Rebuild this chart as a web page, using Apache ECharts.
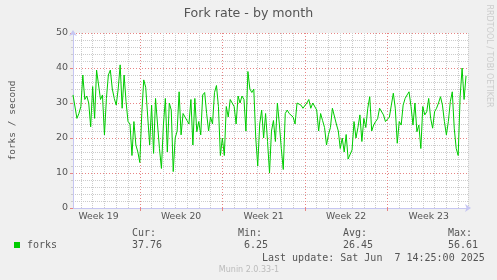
<!DOCTYPE html>
<html><head><meta charset="utf-8">
<script src="https://cdn.jsdelivr.net/npm/echarts@6/dist/echarts.min.js"></script>
<style>html,body{margin:0;padding:0;background:#f0f0f0}#c{width:497px;height:280px}</style>
</head><body><div id="c"></div>
<script>
// ---- data ----
const titleText = 'Fork rate - by month';
const yAxisName = 'forks / second';
const seriesName = 'forks';
const weekLabels = ['Week 19', 'Week 20', 'Week 21', 'Week 22', 'Week 23'];
const yTicks = [0, 10, 20, 30, 40, 50];
// hours since Monday 00:00 of Week 19; one sample every 4 hours
const firstHour = 32;
const stepHours = 4;
const values = [
  32.3, 32, 25.6, 27, 29, 38, 31, 32, 30, 23.2, 34.7, 25.6, 39.4, 39.4, 31, 32.3, 20.9, 31.3, 38, 39.4,
  34, 31.3, 29.4, 34, 40.9, 28.5, 38, 30.4, 24.7, 24, 15, 24.7, 18, 16, 13,
  27, 36.6, 34.5, 35, 18, 29.4, 15.6, 31.3, 24, 17, 11.3, 23.7, 31.3, 16, 30, 28, 10.4, 20, 22, 33.2,
  20.9, 27, 27.5, 25, 24, 31, 18, 31.3, 21.8, 24.7, 20.9, 32.3, 33,
  27, 22, 26, 24, 33, 35, 29, 15, 20, 15, 29, 26, 31, 30, 29, 24, 32, 30, 32, 31,
  22, 39, 34, 33, 34, 20, 12, 24, 28, 20, 27, 19, 10, 22,
  25, 19, 30, 24, 17, 11, 27, 28, 27, 27, 26, 24, 30, 30.4, 29.4, 28.5, 28, 30, 31, 28.5,
  30, 30.5, 28, 22, 27, 25, 23, 18, 21, 23, 28.5, 29, 24, 22,
  17, 20, 16, 21, 14, 13.5, 16.6, 24.7, 20, 23, 26.6, 19, 25.6, 23, 28.5, 31.8, 22, 23.7, 24.7, 25.5,
  28.5, 28.5, 26.6, 24.7, 24.2, 26, 29.4, 32.8, 28.5, 18.5, 24.7, 23.7, 29.4, 31.3, 32.3,
  33.2, 29, 23.7, 30, 21.8, 23.7, 17, 29, 26.6, 27.5, 31.3, 25.6, 22.8, 27.5, 28.5, 30, 31.8, 29.4, 24.7, 20.9,
  24.7, 30.4, 33.2, 22.8, 17, 15, 31.8, 40, 31, 37.76
];
const statLabels = ['Cur:', 'Min:', 'Avg:', 'Max:'];
const statValues = ['37.76', '6.25', '26.45', '56.61'];
const lastUpdate = 'Last update: Sat Jun  7 14:25:00 2025';
const footer = 'Munin 2.0.33-1';
const sideText = 'RRDTOOL / TOBI OETIKER';

// ---- chart ----
const categories = Array.from({length: values.length + 1}, (_, i) => String(firstHour + i * stepHours));
const lastIdx = categories.length - 1;
const H = v => Number(v);

const SANS = '"DejaVu Sans", sans-serif';
const MONO = '"DejaVu Sans Mono", monospace';
const TXT = '#555555';
const AXIS = '#c6c6f2';
const MINOR = '#cccccc';
const MAJOR = '#e78585';

const isDayLine = (i, v) => (H(v) % 24 === 0 && H(v) % 168 !== 0) || i === lastIdx;
const isWeekLine = (i, v) => H(v) % 168 === 0;
const isWeekMid = (i, v) => H(v) % 168 === 84;

function txt(x, y, text, font, fill, align, extra) {
  return Object.assign({
    type: 'text', x: x, y: y, silent: true,
    style: {text: text, font: font, fill: fill, align: align || 'left', verticalAlign: 'middle'}
  }, extra || {});
}

const statX = [132, 238, 343, 448];
const statValX = [132, 244, 343, 448];
const graphics = [
  txt(248.5, 13.5, titleText, '12.6px ' + SANS, TXT, 'center'),
  txt(489, 56, sideText, '8px ' + SANS, '#cccccc', 'center', {rotation: -Math.PI / 2}),
  {type: 'rect', x: 14, y: 242, shape: {width: 6, height: 6}, style: {fill: '#00cc00'}, silent: true},
  txt(27, 245.5, seriesName, '10px ' + MONO, TXT),
  txt(262, 258, lastUpdate, '10px ' + MONO, TXT),
  txt(249, 269.5, footer, '8px ' + SANS, '#bbbbbb', 'center')
];
statLabels.forEach((s, i) => graphics.push(txt(statX[i], 233.5, s, '10px ' + MONO, TXT)));
statValues.forEach((s, i) => graphics.push(txt(statValX[i], 245.5, s, '10px ' + MONO, TXT)));

const baseX = {type: 'category', data: categories, boundaryGap: false, position: 'bottom'};

const chart = echarts.init(document.getElementById('c'), null, {renderer: 'canvas'});
chart.setOption({
  animation: false,
  backgroundColor: '#f0f0f0',
  grid: {left: 66, top: 33, width: 402, height: 175, containLabel: false, show: true,
         backgroundColor: '#ffffff', borderWidth: 0},
  xAxis: [
    Object.assign({}, baseX, { // day grid, axis line
      axisLine: {show: true, lineStyle: {color: AXIS, width: 1}, symbol: ['none', 'arrow'],
                 symbolSize: [6, 6], symbolOffset: [0, 3]},
      axisLabel: {show: false},
      axisTick: {show: true, length: 3, interval: isWeekLine, lineStyle: {color: MAJOR}},
      splitLine: {show: true, interval: isDayLine,
                  lineStyle: {color: MINOR, type: 'dotted', width: 1}}
    }),
    Object.assign({}, baseX, { // week labels
      axisLine: {show: false}, axisTick: {show: false}, splitLine: {show: false},
      axisLabel: {show: true, interval: isWeekMid,
                  formatter: v => weekLabels[Math.floor(H(v) / 168)] || '',
                  color: TXT, fontFamily: SANS, fontSize: 9.3, margin: 4}
    }),
    Object.assign({}, baseX, { // week boundary grid
      axisLine: {show: false}, axisTick: {show: false}, axisLabel: {show: false},
      splitLine: {show: true, interval: isWeekLine,
                  lineStyle: {color: MAJOR, type: [1, 2], width: 1}}
    })
  ],
  yAxis: {
    type: 'value', min: yTicks[0], max: yTicks[yTicks.length - 1], interval: 10, position: 'left',
    name: yAxisName, nameLocation: 'middle', nameGap: 55, nameRotate: 90,
    nameTextStyle: {color: TXT, fontFamily: MONO, fontSize: 9.5},
    axisLine: {show: true, lineStyle: {color: AXIS, width: 1}, symbol: ['none', 'arrow'],
               symbolSize: [6, 6], symbolOffset: [0, 3]},
    axisTick: {show: true, length: 3, lineStyle: {color: MAJOR}},
    minorTick: {show: true, splitNumber: 5, length: 2, lineStyle: {color: MINOR}},
    axisLabel: {show: true, color: TXT, fontFamily: SANS, fontSize: 9.5, margin: 5},
    splitLine: {show: true, lineStyle: {color: MAJOR, type: [1, 2], width: 1}},
    minorSplitLine: {show: true, lineStyle: {color: MINOR, type: 'dotted', width: 1}}
  },
  series: [{
    name: seriesName, type: 'line', xAxisIndex: 0, yAxisIndex: 0, data: values,
    symbol: 'none', showSymbol: false, smooth: false, z: 5,
    lineStyle: {color: '#00cc00', width: 1}, itemStyle: {color: '#00cc00'}
  }],
  graphic: graphics
});
</script>
</body></html>
